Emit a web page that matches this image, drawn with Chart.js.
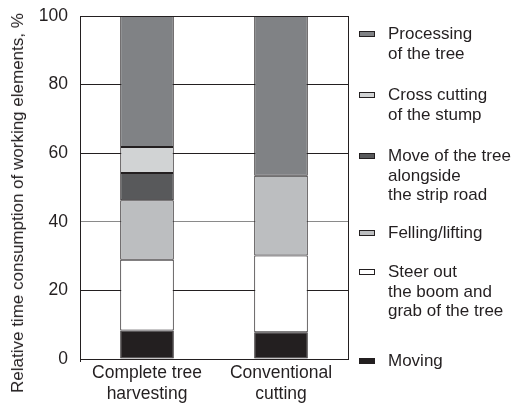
<!DOCTYPE html>
<html>
<head>
<meta charset="utf-8">
<script src="https://cdn.jsdelivr.net/npm/chart.js@4.4.1/dist/chart.umd.min.js"></script>
<style>
    html, body { margin: 0; padding: 0; background: #fff; }
    #wrap { position: relative; width: 513px; height: 404px; font-family: "Liberation Sans", Arial, sans-serif; color: #231f20; }
    #chart { position: absolute; left: 0; top: 0; }
    #ytitle {
        position: absolute; left: 18px; top: 203px; font-size: 17px; white-space: nowrap;
        transform: translate(-50%, -50%) rotate(-90deg);
    }
    #legend { position: absolute; left: 359px; top: 24px; font-size: 17px; line-height: 19.5px; white-space: nowrap; }
    .item { display: flex; align-items: flex-start; margin-bottom: 22px; }
    .item:nth-child(3) { margin-bottom: 18px; }
    .item:nth-child(4) { margin-bottom: 20px; }
    .item:nth-child(5) { margin-bottom: 30px; }
    .box { width: 16px; height: 6px; margin-top: 7px; margin-right: 13px; border: 1px solid #231f20; box-sizing: border-box; flex: none; }
</style>
</head>
<body>
<div id="wrap">
    <canvas id="chart" width="513" height="404"></canvas>
    <div id="ytitle">Relative time consumption of working elements, %</div>
    <div id="legend"></div>
</div>
<script>
// categories and series (stacked bottom -> top), values in %
const categories = [['Complete tree', 'harvesting'], ['Conventional', 'cutting']];
const seriesNames = [
    ['Moving'],
    ['Steer out', 'the boom and', 'grab of the tree'],
    ['Felling/lifting'],
    ['Move of the tree', 'alongside', 'the strip road'],
    ['Cross cutting', 'of the stump'],
    ['Processing', 'of the tree']
];
const moving = [8.3, 7.8];
const steerOut = [20.6, 22.4];
const felling = [17.4, 23.2];
const moveTree = [7.9, null];
const crossCutting = [7.6, null];
const processing = [38.2, 46.6];
const yTicks = [0, 20, 40, 60, 80, 100];

const seriesValues = [moving, steerOut, felling, moveTree, crossCutting, processing];
const seriesColors = ['#231f20', '#ffffff', '#bcbec0', '#58595b', '#d1d3d4', '#808285'];
const dark = '#231f20';
const font = { size: 17.5, family: '"Liberation Sans", Arial, sans-serif' };

const datasets = seriesNames.map((name, i) => ({
    label: name,
    data: seriesValues[i],
    backgroundColor: seriesColors[i],
    borderColor: dark,
    borderWidth: 1,
    borderSkipped: false,
    categoryPercentage: 1,
    barPercentage: 0.4
}));

const ctx = document.getElementById('chart').getContext('2d');
const chart = new Chart(ctx, {
    type: 'bar',
    data: { labels: categories, datasets: datasets },
    options: {
        responsive: false,
        animation: false,
        devicePixelRatio: 1,
        layout: { padding: { left: 30, right: 165, top: 16, bottom: 0 } },
        plugins: { legend: { display: false }, tooltip: { enabled: false } },
        scales: {
            x: {
                stacked: true,
                afterFit: (scale) => { scale.height = 45; },
                grid: {
                    offset: true,
                    color: (c) => c.index === 1 ? 'rgba(0,0,0,0)' : dark,
                    tickColor: (c) => c.index === 0 ? dark : 'rgba(0,0,0,0)',
                    tickLength: 3
                },
                border: { color: dark },
                ticks: { color: dark, font: font, padding: 1, maxRotation: 0 }
            },
            y: {
                stacked: true,
                min: 0,
                max: 100,
                afterFit: (scale) => {
                    scale.width = 50;
                    scale.paddingTop = 0;
                    scale.paddingBottom = 0;
                },
                afterBuildTicks: (scale) => { scale.ticks = yTicks.map(v => ({ value: v })); },
                grid: {
                    drawTicks: false,
                    color: (c) => c.tick && c.tick.value === 40 ? '#8a8a8a' : dark
                },
                border: { color: dark },
                ticks: { color: dark, font: font, padding: 12 }
            }
        }
    }
});

// html legend, top item = last stacked series
const legend = document.getElementById('legend');
chart.data.datasets.slice().reverse().forEach(ds => {
    const item = document.createElement('div');
    item.className = 'item';
    const box = document.createElement('span');
    box.className = 'box';
    box.style.background = ds.backgroundColor;
    const txt = document.createElement('span');
    txt.innerHTML = ds.label.join('<br>');
    item.appendChild(box);
    item.appendChild(txt);
    legend.appendChild(item);
});
</script>
</body>
</html>
